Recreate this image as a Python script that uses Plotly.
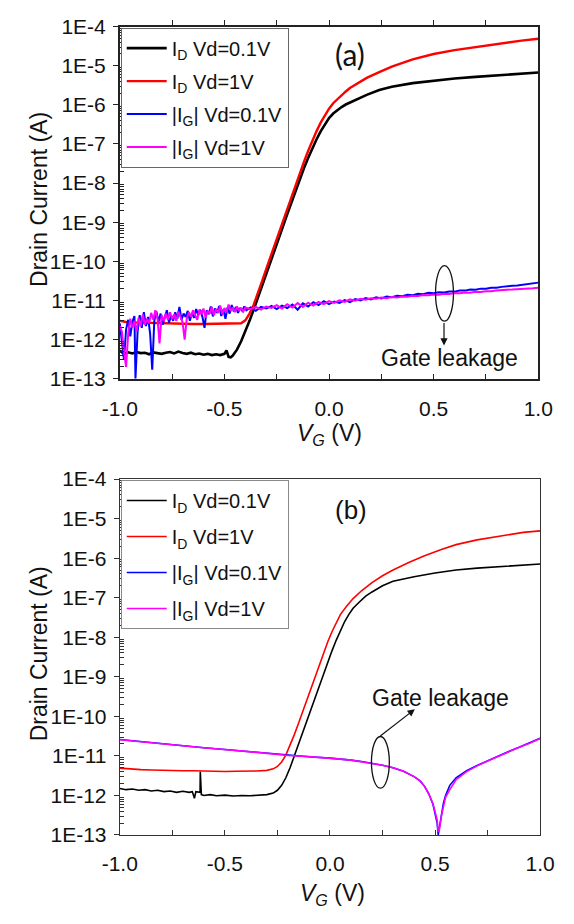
import plotly.graph_objects as go

# ---------------- Panel (a) data ----------------
VG_A_ID01 = [-1.0,-0.98,-0.96,-0.94,-0.92,-0.9,-0.88,-0.86,-0.84,-0.82,-0.8,-0.78,-0.76,-0.74,-0.72,-0.7,-0.68,-0.66,-0.64,-0.62,
             -0.6,-0.58,-0.56,-0.54,-0.52,-0.5,-0.49,-0.48,-0.47,-0.46,-0.44,-0.42,-0.40,-0.38,-0.36,-0.34,-0.32,-0.30,-0.28,-0.26,
             -0.24,-0.22,-0.20,-0.18,-0.16,-0.14,-0.12,-0.10,-0.08,-0.06,-0.04,-0.02,0.0,0.02,0.04,0.06,0.08,0.1,0.14,0.18,
             0.24,0.3,0.4,0.5,0.6,0.7,0.77,0.85,0.92,1.0]
ID_A_01 = [5.2e-13,4.3e-13,4.7e-13,4.4e-13,4.8e-13,4.5e-13,4.6e-13,4.2e-13,4.7e-13,4.4e-13,4.3e-13,4.6e-13,4.8e-13,4.4e-13,4.9e-13,4.5e-13,4.3e-13,4.6e-13,4.2e-13,4.4e-13,
           4.1e-13,4.3e-13,4.0e-13,4.2e-13,4.0e-13,4.3e-13,5.3e-13,3.6e-13,3.5e-13,3.9e-13,5.5e-13,9e-13,1.6e-12,3e-12,5.8e-12,1.15e-11,2.3e-11,4.7e-11,9.5e-11,1.9e-10,
           3.9e-10,7.8e-10,1.6e-9,3.2e-9,6.4e-9,1.25e-8,2.4e-8,4.4e-8,7.8e-8,1.3e-7,2.1e-7,3.2e-7,4.6e-7,6e-7,7.4e-7,8.8e-7,1.02e-6,1.15e-6,1.45e-6,1.8e-6,
           2.4e-6,2.9e-6,3.6e-6,4.2e-6,4.7e-6,5.2e-6,5.5e-6,5.9e-6,6.3e-6,6.7e-6]

VG_A_ID1 = [-1.0,-0.97,-0.94,-0.9,-0.85,-0.8,-0.75,-0.7,-0.65,-0.6,-0.55,-0.5,-0.45,-0.42,-0.40,-0.38,-0.36,-0.34,-0.32,-0.30,
            -0.28,-0.26,-0.24,-0.22,-0.20,-0.18,-0.16,-0.14,-0.12,-0.10,-0.08,-0.06,-0.04,-0.02,0.0,0.02,0.04,0.06,0.08,0.1,
            0.14,0.18,0.24,0.3,0.4,0.5,0.6,0.7,0.77,0.85,0.92,1.0]
ID_A_1 = [3.0e-12,2.8e-12,2.75e-12,2.7e-12,2.7e-12,2.65e-12,2.6e-12,2.55e-12,2.5e-12,2.5e-12,2.5e-12,2.5e-12,2.5e-12,2.6e-12,3.1e-12,4.6e-12,7.8e-12,1.5e-11,3.1e-11,6.4e-11,
          1.3e-10,2.7e-10,5.5e-10,1.1e-9,2.3e-9,4.6e-9,9.2e-9,1.8e-8,3.5e-8,6.6e-8,1.2e-7,2.1e-7,3.5e-7,5.5e-7,8e-7,1.1e-6,1.4e-6,1.8e-6,2.2e-6,2.7e-6,
          3.7e-6,4.9e-6,6.9e-6,9.5e-6,1.45e-5,2.0e-5,2.5e-5,3.0e-5,3.4e-5,3.9e-5,4.4e-5,4.9e-5]

VG_A_IG01 = [-1.0,-0.99,-0.98,-0.97,-0.96,-0.95,-0.94,-0.93,-0.925,-0.915,-0.905,-0.895,-0.885,-0.875,-0.865,-0.855,-0.845,-0.835,-0.825,-0.815,
             -0.805,-0.795,-0.785,-0.775,-0.765,-0.755,-0.745,-0.735,-0.725,-0.715,-0.705,-0.695,-0.685,-0.675,-0.665,-0.655,-0.645,-0.635,-0.625,-0.615,
             -0.605,-0.595,-0.585,-0.575,-0.565,-0.555,-0.545,-0.535,-0.525,-0.515,-0.505,-0.495,-0.485,-0.475,-0.465,-0.455,-0.445,-0.435,-0.425,-0.415,
             -0.405,-0.395,-0.375,-0.35,-0.325,-0.3,-0.275,-0.25,-0.225,-0.2,-0.175,-0.15,-0.125,-0.1,-0.075,-0.05,-0.025,0.0,0.025,0.05,
             0.075,0.1,0.125,0.15,0.175,0.2,0.225,0.25,0.275,0.3,0.325,0.35,0.375,0.4,0.425,0.45,0.475,0.5,0.525,0.55,
             0.575,0.6,0.625,0.65,0.675,0.7,0.725,0.75,0.775,0.8,0.825,0.85,0.875,0.9,0.925,0.95,0.975,1.0]
IG_A_01 = [2.6e-12,1.0e-12,3.0e-13,1.8e-12,3.2e-12,1.2e-12,2.8e-12,4.0e-12,1.0e-13,1.6e-12,4.2e-12,2.0e-12,5.0e-12,2.2e-12,3.8e-12,1.4e-12,1.7e-13,3.0e-12,5.2e-12,2.8e-12,
           4.6e-12,2.4e-12,3.6e-12,5.6e-12,2.7e-12,4.0e-12,3.0e-12,5.0e-12,3.4e-12,6.8e-12,3.2e-12,4.6e-12,3.8e-12,5.4e-12,3.0e-12,4.8e-12,3.6e-12,6.0e-12,4.2e-12,5.8e-12,
           3.8e-12,2.0e-12,5.6e-12,4.4e-12,7.0e-12,3.9e-12,6.2e-12,4.8e-12,7.2e-12,4.0e-12,5.8e-12,3.4e-12,6.6e-12,4.6e-12,7.6e-12,5.2e-12,6.8e-12,4.8e-12,6.4e-12,5.4e-12,
           7.0e-12,5.6e-12,6.6e-12,5.4e-12,6.8e-12,6.2e-12,7.2e-12,6.0e-12,7.4e-12,6.4e-12,7.8e-12,5.8e-12,8.4e-12,7.0e-12,9.0e-12,7.6e-12,9.6e-12,8.0e-12,9.4e-12,8.6e-12,
           1.02e-11,9.0e-12,1.08e-11,1.0e-11,1.15e-11,1.06e-11,1.2e-11,1.12e-11,1.26e-11,1.2e-11,1.32e-11,1.28e-11,1.4e-11,1.36e-11,1.48e-11,1.44e-11,1.56e-11,1.52e-11,1.62e-11,1.6e-11,
           1.7e-11,1.68e-11,1.8e-11,1.78e-11,1.9e-11,1.88e-11,2.0e-11,1.98e-11,2.1e-11,2.1e-11,2.22e-11,2.24e-11,2.36e-11,2.4e-11,2.52e-11,2.6e-11,2.72e-11,2.85e-11]

VG_A_IG1 = [-1.0,-0.99,-0.98,-0.97,-0.96,-0.95,-0.94,-0.93,-0.92,-0.91,-0.9,-0.89,-0.88,-0.87,-0.86,-0.85,-0.84,-0.83,-0.82,-0.81,
            -0.8,-0.79,-0.78,-0.77,-0.76,-0.75,-0.74,-0.73,-0.72,-0.71,-0.7,-0.69,-0.68,-0.67,-0.66,-0.65,-0.64,-0.63,-0.62,-0.61,
            -0.6,-0.59,-0.58,-0.57,-0.56,-0.55,-0.54,-0.53,-0.52,-0.51,-0.5,-0.49,-0.48,-0.47,-0.46,-0.45,-0.44,-0.43,-0.42,-0.41,
            -0.4,-0.375,-0.35,-0.325,-0.3,-0.275,-0.25,-0.225,-0.2,-0.175,-0.15,-0.125,-0.1,-0.075,-0.05,-0.025,0.0,0.025,0.05,0.075,
            0.1,0.125,0.15,0.175,0.2,0.225,0.25,0.275,0.3,0.325,0.35,0.375,0.4,0.425,0.45,0.475,0.5,0.525,0.55,0.575,
            0.6,0.625,0.65,0.675,0.7,0.725,0.75,0.775,0.8,0.825,0.85,0.875,0.9,0.925,0.95,0.975,1.0]
IG_A_1 = [2.2e-12,1.6e-12,5.0e-13,2.0e-13,1.4e-12,3.4e-12,2.0e-12,3.0e-12,1.6e-12,3.6e-12,2.2e-12,4.4e-12,2.4e-12,3.4e-12,2.6e-12,4.8e-12,3.2e-12,5.6e-12,3.6e-12,8.0e-13,
          4.2e-12,3.0e-12,4.6e-12,3.2e-12,5.0e-12,3.4e-12,4.4e-12,3.0e-12,5.2e-12,3.6e-12,2.8e-12,1.0e-12,3.4e-12,5.0e-12,3.8e-12,5.6e-12,4.0e-12,3.2e-12,5.8e-12,4.4e-12,
          6.2e-12,3.6e-12,5.4e-12,4.6e-12,6.8e-12,4.2e-12,6.0e-12,4.8e-12,7.4e-12,4.4e-12,6.4e-12,5.0e-12,7.8e-12,5.4e-12,6.6e-12,5.0e-12,7.0e-12,5.6e-12,6.2e-12,5.2e-12,
          6.6e-12,6.0e-12,6.8e-12,5.8e-12,7.0e-12,6.4e-12,7.6e-12,6.2e-12,8.0e-12,6.6e-12,8.6e-12,6.8e-12,8.8e-12,7.4e-12,9.2e-12,8.0e-12,9.6e-12,8.6e-12,1.0e-11,9.2e-12,
          1.06e-11,9.8e-12,1.1e-11,1.04e-11,1.14e-11,1.1e-11,1.18e-11,1.14e-11,1.22e-11,1.18e-11,1.26e-11,1.24e-11,1.32e-11,1.3e-11,1.38e-11,1.36e-11,1.42e-11,1.4e-11,1.48e-11,1.46e-11,
          1.54e-11,1.52e-11,1.6e-11,1.58e-11,1.66e-11,1.64e-11,1.72e-11,1.72e-11,1.8e-11,1.8e-11,1.88e-11,1.9e-11,1.96e-11,1.98e-11,2.04e-11,2.06e-11,2.12e-11]

# ---------------- Panel (b) data ----------------
VG_B_ID01 = [-1.0,-0.97,-0.94,-0.91,-0.88,-0.85,-0.82,-0.79,-0.76,-0.73,-0.7,-0.67,-0.655,-0.645,-0.638,-0.625,-0.618,-0.617,-0.612,-0.6,
             -0.57,-0.54,-0.5,-0.46,-0.42,-0.38,-0.34,-0.3,-0.27,-0.25,-0.23,-0.21,-0.19,-0.17,-0.15,-0.13,-0.11,-0.09,-0.07,-0.05,
             -0.03,-0.01,0.01,0.03,0.05,0.07,0.09,0.11,0.14,0.17,0.2,0.25,0.3,0.35,0.4,0.5,0.6,0.7,0.8,0.9,1.0]
ID_B_01 = [1.5e-12,1.4e-12,1.45e-12,1.35e-12,1.4e-12,1.3e-12,1.35e-12,1.25e-12,1.3e-12,1.2e-12,1.28e-12,1.2e-12,1.25e-12,8.5e-13,1.25e-12,1.2e-12,1.2e-12,4.0e-12,1.05e-12,1.0e-12,
           1.05e-12,9.8e-13,1.02e-12,9.7e-13,1.0e-12,9.8e-13,1.02e-12,1.05e-12,1.15e-12,1.35e-12,1.8e-12,2.8e-12,5e-12,1.0e-11,1.9e-11,3.8e-11,7.5e-11,1.5e-10,3e-10,6e-10,
           1.2e-9,2.4e-9,4.6e-9,8.5e-9,1.5e-8,2.5e-8,3.8e-8,5.4e-8,7.8e-8,1.1e-7,1.4e-7,2.0e-7,2.6e-7,3.0e-7,3.4e-7,4.2e-7,5.0e-7,5.6e-7,6.1e-7,6.6e-7,7.1e-7]

VG_B_ID1 = [-1.0,-0.95,-0.9,-0.85,-0.8,-0.75,-0.7,-0.65,-0.6,-0.55,-0.5,-0.45,-0.4,-0.35,-0.3,-0.27,-0.25,-0.23,-0.21,-0.19,
            -0.17,-0.15,-0.13,-0.11,-0.09,-0.07,-0.05,-0.03,-0.01,0.01,0.03,0.05,0.08,0.11,0.15,0.2,0.25,0.3,0.38,0.45,
            0.53,0.6,0.7,0.76,0.85,0.92,1.0]
ID_B_1 = [4.9e-12,4.6e-12,4.5e-12,4.4e-12,4.3e-12,4.3e-12,4.2e-12,4.2e-12,4.1e-12,4.1e-12,4.05e-12,4.1e-12,4.1e-12,4.15e-12,4.3e-12,4.7e-12,5.4e-12,7e-12,1.05e-11,1.8e-11,
          3.4e-11,6.6e-11,1.3e-10,2.6e-10,5.2e-10,1.05e-9,2.1e-9,4.1e-9,7.8e-9,1.4e-8,2.4e-8,3.8e-8,6.2e-8,9.5e-8,1.5e-7,2.4e-7,3.6e-7,5.0e-7,8e-7,1.15e-6,
          1.65e-6,2.2e-6,2.9e-6,3.3e-6,4.0e-6,4.5e-6,4.9e-6]

VG_B_IG = [-1.0,-0.9,-0.8,-0.7,-0.6,-0.5,-0.4,-0.3,-0.2,-0.1,0.0,0.05,0.1,0.15,0.2,0.25,0.3,0.35,0.4,0.43,
           0.45,0.47,0.49,0.5,0.51,0.515,0.52,0.53,0.54,0.55,0.57,0.6,0.65,0.7,0.75,0.8,0.85,0.9,0.95,1.0]
IG_B_01 = [2.6e-11,2.3e-11,2.0e-11,1.8e-11,1.6e-11,1.45e-11,1.3e-11,1.15e-11,1.02e-11,9.5e-12,8.8e-12,8.4e-12,7.8e-12,7.2e-12,6.5e-12,5.8e-12,5.0e-12,4.1e-12,3.0e-12,2.3e-12,
           1.7e-12,1.1e-12,6.0e-13,3.6e-13,2.0e-13,1.0e-13,1.5e-13,3.5e-13,6.5e-13,1.0e-12,1.8e-12,2.8e-12,4.2e-12,5.7e-12,7.5e-12,1.0e-11,1.3e-11,1.65e-11,2.1e-11,2.8e-11]
IG_B_1 = [2.55e-11,2.3e-11,2.02e-11,1.8e-11,1.6e-11,1.46e-11,1.3e-11,1.16e-11,1.02e-11,9.6e-12,8.9e-12,8.3e-12,7.8e-12,7.1e-12,6.5e-12,5.8e-12,5.0e-12,4.1e-12,3.0e-12,2.3e-12,
          1.7e-12,1.1e-12,6.2e-13,4.0e-13,2.4e-13,1.2e-13,1.3e-13,3.0e-13,5.5e-13,9.0e-13,1.4e-12,2.5e-12,4.0e-12,5.6e-12,7.4e-12,9.8e-12,1.3e-11,1.65e-11,2.1e-11,2.75e-11]

LEGEND_NAMES = ["I<sub>D</sub> Vd=0.1V", "I<sub>D</sub> Vd=1V", "|I<sub>G</sub>| Vd=0.1V", "|I<sub>G</sub>| Vd=1V"]
COLORS = ["#000000", "#ff0000", "#0000ff", "#ff00ff"]
Y_TICKVALS = [1e-13, 1e-12, 1e-11, 1e-10, 1e-9, 1e-8, 1e-7, 1e-6, 1e-5, 1e-4]
Y_TICKTEXT = ["1E-13", "1E-12", "1E-11", "1E-10", "1E-9", "1E-8", "1E-7", "1E-6", "1E-5", "1E-4"]
X_TICKVALS = [-1.0, -0.5, 0.0, 0.5, 1.0]
X_TICKTEXT = ["-1.0", "-0.5", "0.0", "0.5", "1.0"]

W, H = 574, 924
def PX(x): return x / W
def PY(y): return 1 - y / H

FONT = "Arial, Liberation Sans, sans-serif"
fig = go.Figure()

panel_a = [(VG_A_ID01, ID_A_01), (VG_A_ID1, ID_A_1), (VG_A_IG01, IG_A_01), (VG_A_IG1, IG_A_1)]
widths_a = [2.6, 2.4, 2.0, 2.0]
for i, (xs, ys) in enumerate(panel_a):
    fig.add_trace(go.Scatter(x=xs, y=ys, mode="lines", name=LEGEND_NAMES[i],
                             line=dict(color=COLORS[i], width=widths_a[i]),
                             xaxis="x", yaxis="y", legend="legend", legendgroup=f"a{i}"))

panel_b = [(VG_B_ID01, ID_B_01), (VG_B_ID1, ID_B_1), (VG_B_IG, IG_B_01), (VG_B_IG, IG_B_1)]
for i, (xs, ys) in enumerate(panel_b):
    fig.add_trace(go.Scatter(x=xs, y=ys, mode="lines", name=LEGEND_NAMES[i],
                             line=dict(color=COLORS[i], width=1.6),
                             xaxis="x2", yaxis="y2", legend="legend2", legendgroup=f"b{i}"))

# invisible helper trace for the top tick axis of panel (a)
fig.add_trace(go.Scatter(x=[-1, 1], y=[1e-20, 1e-20], mode="lines", line=dict(width=0),
                         xaxis="x3", yaxis="y", showlegend=False, hoverinfo="skip"))

minor_y = [k * 10.0 ** n for n in range(-13, -4) for k in range(2, 10)]

def xaxis_cfg(domain, anchor, lw, lc):
    return dict(domain=domain, anchor=anchor, range=[-1, 1], tickmode="array",
                tickvals=X_TICKVALS, ticktext=X_TICKTEXT, ticks="inside", ticklen=5,
                tickwidth=1.2, tickcolor=lc,
                minor=dict(tickvals=[-0.75, -0.25, 0.25, 0.75], ticks="inside", ticklen=5, tickwidth=1.2, tickcolor=lc),
                showline=True, linecolor=lc, linewidth=lw, mirror=True,
                showgrid=False, zeroline=False, ticklabelstandoff=10,
                tickfont=dict(family=FONT, size=21, color="#111"))

def yaxis_cfg(domain, anchor, lw, lc):
    return dict(domain=domain, anchor=anchor, type="log", range=[-13, -4], tickmode="array",
                tickvals=Y_TICKVALS, ticktext=Y_TICKTEXT, ticks="outside", ticklen=5,
                tickwidth=1.2, tickcolor=lc,
                minor=dict(tickvals=minor_y, ticks="inside", ticklen=4, tickwidth=1, tickcolor=lc),
                showline=True, linecolor=lc, linewidth=lw, mirror=True,
                showgrid=False, zeroline=False, ticklabelstandoff=3,
                tickfont=dict(family=FONT, size=21, color="#111"))

fig.update_layout(
    width=W, height=H, margin=dict(l=0, r=0, t=0, b=0), autosize=False,
    paper_bgcolor="white", plot_bgcolor="white", showlegend=True,
    xaxis=xaxis_cfg([PX(108), PX(552)], "y", 1.6, "#222"),
    yaxis=yaxis_cfg([PY(376), PY(15)], "x", 1.6, "#222"),
    xaxis2=xaxis_cfg([PX(108), PX(554)], "y2", 1.1, "#333"),
    yaxis2=yaxis_cfg([PY(844), PY(479)], "x2", 1.1, "#333"),
    xaxis3=dict(overlaying="x", anchor="y", side="top", range=[-1, 1], tickmode="array",
                tickvals=[-0.75, -0.5, -0.25, 0.0, 0.25, 0.5, 0.75], ticks="outside", ticklen=6,
                tickwidth=1.2, tickcolor="#222", showticklabels=False, showline=False,
                showgrid=False, zeroline=False),
    legend=dict(x=PX(109), y=PY(16), xanchor="left", yanchor="top", bgcolor="white",
                bordercolor="#666", borderwidth=1, tracegroupgap=4,
                font=dict(family=FONT, size=20, color="#111"), itemwidth=40),
    legend2=dict(x=PX(109), y=PY(480), xanchor="left", yanchor="top", bgcolor="white",
                 bordercolor="#888", borderwidth=1, tracegroupgap=7,
                 font=dict(family=FONT, size=20, color="#111"), itemwidth=40),
)

ann_font = dict(family=FONT, size=23, color="#111")
annotations = [
    dict(text="Drain Current (A)", x=PX(22), y=PY(192), textangle=-90, font=ann_font),
    dict(text="Drain Current (A)", x=PX(22), y=PY(658), textangle=-90, font=ann_font),
    dict(text="<i>V</i><sub><i>G</i></sub> (V)", x=PX(331), y=PY(433), font=ann_font),
    dict(text="<i>V</i><sub><i>G</i></sub> (V)", x=PX(334), y=PY(905), font=ann_font),
    dict(text="(a)", x=PX(352), y=PY(43), font=dict(family="Lato, Open Sans, sans-serif", size=30, color="#111")),
    dict(text="(b)", x=PX(353), y=PY(511), font=dict(family=FONT, size=26, color="#111")),
    dict(text="Gate leakage", x=PX(458), y=PY(355), font=dict(family=FONT, size=23, color="#111")),
    dict(text="Gate leakage", x=PX(448), y=PY(703), font=dict(family=FONT, size=23, color="#111")),
    # arrows
    dict(text="", x=PX(452), y=PY(342), ax=0, ay=-24, showarrow=True, arrowhead=2, arrowsize=1.2,
         arrowwidth=1.2, arrowcolor="#111", xref="paper", yref="paper"),
    dict(text="", x=PX(421), y=PY(715), ax=-36, ay=28, showarrow=True, arrowhead=2, arrowsize=1.2,
         arrowwidth=1.2, arrowcolor="#111", xref="paper", yref="paper"),
]
for a in annotations:
    a.setdefault("xref", "paper")
    a.setdefault("yref", "paper")
    a.setdefault("showarrow", False)
    a.setdefault("xanchor", "center")
    a.setdefault("yanchor", "middle")
fig.update_layout(annotations=annotations)

fig.update_layout(shapes=[
    dict(type="circle", xref="paper", yref="paper", x0=PX(443), x1=PX(462), y0=PY(260), y1=PY(317),
         line=dict(color="#111", width=1.3)),
    dict(type="circle", xref="paper", yref="paper", x0=PX(375), x1=PX(394), y0=PY(743), y1=PY(796),
         line=dict(color="#111", width=1.3)),
])

fig.write_html("out.html", config={"displayModeBar": False},
               post_script="document.body.style.margin='0';document.body.style.padding='0';")
